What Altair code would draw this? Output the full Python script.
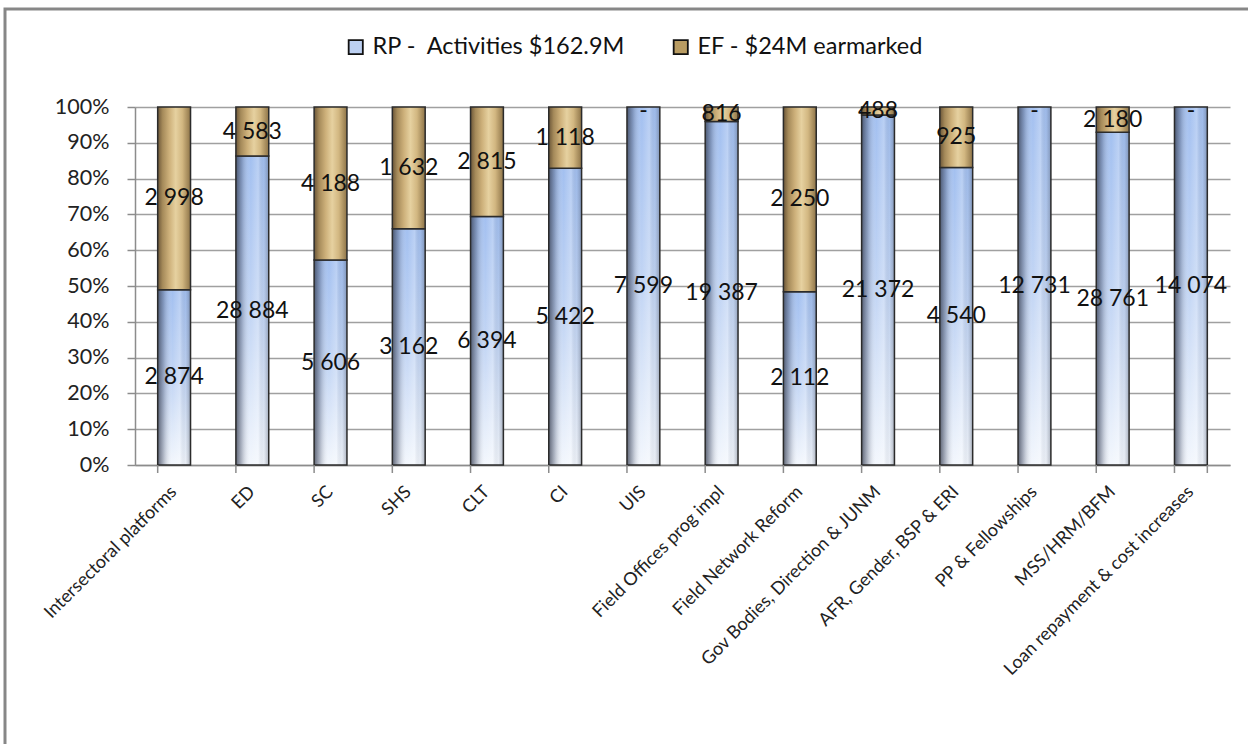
import altair as alt
import pandas as pd

# Budget split per sector: Regular Programme activities vs earmarked extrabudgetary funds
categories = [
    "Intersectoral platforms", "ED", "SC", "SHS", "CLT", "CI", "UIS",
    "Field Offices prog impl", "Field Network Reform",
    "Gov Bodies, Direction & JUNM", "AFR, Gender, BSP & ERI",
    "PP & Fellowships", "MSS/HRM/BFM", "Loan repayment & cost increases",
]
rp_values = [2874, 28884, 5606, 3162, 6394, 5422, 7599, 19387, 2112, 21372, 4540, 12731, 28761, 14074]
ef_values = [2998, 4583, 4188, 1632, 2815, 1118, 0, 816, 2250, 488, 925, 0, 2180, 0]
series_names = ["RP - \u00a0Activities $162.9M", "EF - $24M earmarked"]
y_ticks = [0, 0.1, 0.2, 0.3, 0.4, 0.5, 0.6, 0.7, 0.8, 0.9, 1.0]

FONT = "Lato"
W, H = 1095, 358

df = pd.DataFrame({"category": categories, "RP": rp_values, "EF": ef_values})

base = alt.Chart(df).transform_calculate(
    total="datum.RP + datum.EF",
    rp_share="datum.RP / datum.total",
    rp_mid="datum.rp_share / 2",
    ef_mid="datum.rp_share + (1 - datum.rp_share) / 2",
    top="1",
    rp_label="replace(format(datum.RP, ','), ',', ' ')",
    ef_label="datum.EF > 0 ? replace(format(datum.EF, ','), ',', ' ') : '-'",
)

x_axis = alt.Axis(
    labelAngle=-45, labelFontSize=18, labelFont=FONT, labelColor="#222",
    labelPadding=24, labelBaseline="middle", ticks=False, domainColor="#8c8c8c",
    domainWidth=1.5, labelLimit=400,
)
x_enc = alt.X(
    "category:N", sort=categories, title=None,
    scale=alt.Scale(paddingInner=0.58, paddingOuter=0.29), axis=x_axis,
)
x_plain = alt.X("category:N", sort=categories, title=None, axis=x_axis)

y_scale = alt.Scale(domain=[0, 1], nice=False)
y_axis = alt.Axis(
    values=y_ticks, format=".0%", title=None, labelFontSize=21.5, labelFont=FONT,
    labelColor="#222", tickColor="#8c8c8c", tickSize=8, tickWidth=1.5,
    domainColor="#8c8c8c", domainWidth=1.5, gridColor="#a0a0a0", gridWidth=1.5,
    labelPadding=18, labelOverlap=False, tickCount=11,
)


def y_enc(field):
    return alt.Y(field, scale=y_scale, axis=y_axis, title=None)


blue_vertical = alt.Gradient(
    gradient="linear", x1=0, x2=0, y1=0, y2=1,
    stops=[
        alt.GradientStop(color="#a3c0f0", offset=0),
        alt.GradientStop(color="#c2d5f4", offset=0.5),
        alt.GradientStop(color="#f3f7fd", offset=1),
    ],
)
blue_shade = alt.Gradient(
    gradient="linear", x1=0, x2=1, y1=0, y2=0,
    stops=[
        alt.GradientStop(color="rgba(45,52,70,0.75)", offset=0),
        alt.GradientStop(color="rgba(60,70,95,0.35)", offset=0.18),
        alt.GradientStop(color="rgba(255,255,255,0.0)", offset=0.45),
        alt.GradientStop(color="rgba(255,255,255,0.25)", offset=0.68),
        alt.GradientStop(color="rgba(70,80,100,0.05)", offset=0.85),
        alt.GradientStop(color="rgba(50,58,75,0.35)", offset=1),
    ],
)
tan_fill = alt.Gradient(
    gradient="linear", x1=0, x2=1, y1=0, y2=0,
    stops=[
        alt.GradientStop(color="#6b5638", offset=0),
        alt.GradientStop(color="#a58a5a", offset=0.15),
        alt.GradientStop(color="#cdb07a", offset=0.35),
        alt.GradientStop(color="#e6d1a0", offset=0.55),
        alt.GradientStop(color="#d2b781", offset=0.75),
        alt.GradientStop(color="#8e7448", offset=1),
    ],
)

rp_base = base.mark_bar(fill=blue_vertical, stroke=None).encode(
    x=x_enc, y=y_enc("rp_share:Q"), y2=alt.datum(0),
)
rp_top = base.mark_bar(fill=blue_shade, stroke="#2b2b2b", strokeWidth=1.5).encode(
    x=x_plain, y=y_enc("rp_share:Q"), y2=alt.datum(0),
)
ef_bar = base.transform_filter("datum.EF > 0").mark_bar(
    fill=tan_fill, stroke="#2b2b2b", strokeWidth=1.5
).encode(
    x=x_plain, y=y_enc("rp_share:Q"), y2="top:Q",
)

text_style = dict(font=FONT, fontSize=23, color="#111", baseline="middle", align="center")
rp_text = base.mark_text(**text_style).encode(
    x=x_plain, y=y_enc("rp_mid:Q"), text="rp_label:N",
)
ef_text = base.transform_filter("datum.EF > 0").mark_text(**text_style).encode(
    x=x_plain, y=y_enc("ef_mid:Q"), text="ef_label:N",
)
# zero earmarked amounts show a dash just under the top of the bar
ef_dash = base.transform_filter("datum.EF == 0").mark_text(dy=4, **text_style).encode(
    x=x_plain, y=y_enc("ef_mid:Q"), text="ef_label:N",
)

# category separator ticks under the x axis
sep_ticks = base.mark_rule(color="#8c8c8c", strokeWidth=1.5).encode(
    x=alt.X("category:N", sort=categories, bandPosition=0, axis=x_axis, title=None),
    y=alt.value(H),
    y2=alt.value(H + 8),
)
end_tick = base.transform_filter(
    alt.datum.category == categories[-1]
).mark_rule(color="#8c8c8c", strokeWidth=1.5).encode(
    x=alt.X("category:N", sort=categories, bandPosition=1, axis=x_axis, title=None),
    y=alt.value(H),
    y2=alt.value(H + 8),
)

legend_layer = alt.Chart(pd.DataFrame({"series": series_names})).mark_square(opacity=0).encode(
    color=alt.Color(
        "series:N",
        scale=alt.Scale(domain=series_names, range=["#bcd0f2", "#b99c62"]),
        legend=alt.Legend(
            title=None, orient="none", legendX=209, legendY=-72, direction="horizontal",
            symbolType="square", symbolSize=200, symbolStrokeColor="#111",
            symbolStrokeWidth=1.8, symbolOpacity=1, labelFontSize=23.5, labelFont=FONT,
            labelColor="#111", columnPadding=44, labelOffset=5, labelLimit=400,
        ),
    ),
)

frame = alt.Chart(alt.InlineData(values=[{"k": 1}])).mark_rect(
    fill="transparent", stroke="#878787", strokeWidth=3
).encode(
    x=alt.value(-130), x2=alt.value(1300), y=alt.value(-98), y2=alt.value(800)
)

chart = alt.layer(
    frame, rp_base, rp_top, ef_bar, sep_ticks, end_tick, rp_text, ef_text, ef_dash,
    legend_layer,
).properties(
    width=W, height=H,
    autosize=alt.AutoSizeParams(type="none"),
    padding={"left": 135, "top": 107, "right": 18, "bottom": 279},
    background="white",
).configure_view(stroke=None)

chart.save("out.html", embed_options={"renderer": "svg", "actions": False})
